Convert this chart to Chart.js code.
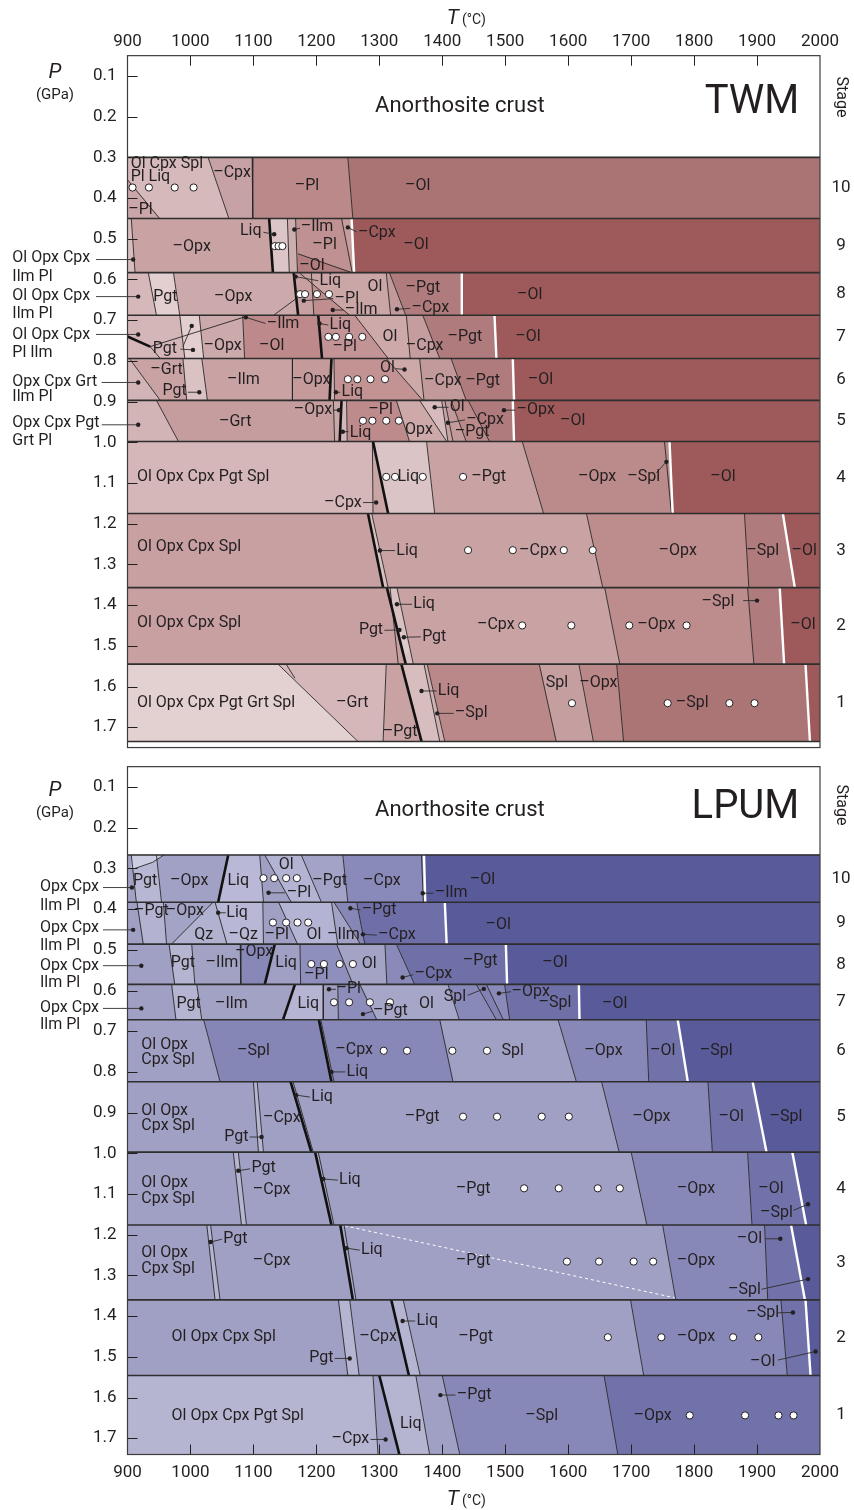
<!DOCTYPE html>
<html lang="en">
<head>
<meta charset="UTF-8">
<title>TWM and LPUM crystallisation stages</title>
<script src="https://cdn.jsdelivr.net/npm/chart.js"></script>
<style>
  body { margin: 0; background: #fff; }
  .panel { position: absolute; left: 0; }
  #twmWrap { top: 0; }
  #lpumWrap { top: 760px; }
</style>
</head>
<body>
<div class="panel" id="twmWrap"><canvas id="twm" width="854" height="760"></canvas></div>
<div class="panel" id="lpumWrap"><canvas id="lpum" width="854" height="750"></canvas></div>
<script>
// axes
const tempTicks = [900, 1000, 1100, 1200, 1300, 1400, 1500, 1600, 1700, 1800, 1900, 2000];
const presTicks = [0.1, 0.2, 0.3, 0.4, 0.5, 0.6, 0.7, 0.8, 0.9, 1.0, 1.1, 1.2, 1.3, 1.4, 1.5, 1.6, 1.7];
const stageNums = [10, 9, 8, 7, 6, 5, 4, 3, 2, 1];

// ---------- TWM ----------
// pressure of the stage band edges (GPa), stage 10 at top
const twmEdges = [0.30, 0.45, 0.583, 0.688, 0.794, 0.897, 0.998, 1.175, 1.357, 1.545, 1.735];
// phase boundaries in each band: [T at top, T at bottom, kind]  t thin, k thick, w white
const twmBounds = [
  [[1028, 1061, 't'], [1098, 1099, 't'], [1250, 1258, 't']],
  [[906, 912, 't'], [1125, 1131, 'k'], [1154, 1157, 't'], [1167, 1170, 't'], [1240, 1257, 't'], [1256, 1260, 'w']],
  [[933, 946, 't'], [973, 983, 't'], [1164, 1171, 'k'], [1192, 1196, 't'], [1311, 1318, 't'], [1316, 1342, 't'], [1431, 1431, 'w']],
  [[983, 991, 't'], [1014, 1021, 't'], [1083, 1086, 't'], [1203, 1209, 'k'], [1261, 1314, 't'], [1343, 1349, 't'], [1369, 1396, 't'], [1483, 1486, 'w']],
  [[903, 952, 't'], [988, 994, 't'], [1018, 1027, 't'], [1162, 1162, 't'], [1224, 1221, 'k'], [1228, 1229, 't'], [1311, 1369, 't'], [1364, 1371, 't'], [1414, 1438, 't'], [1512, 1514, 'w']],
  [[946, 981, 't'], [1227, 1229, 't'], [1240, 1237, 'k'], [1248, 1249, 't'], [1327, 1348, 't'], [1364, 1407, 't'], [1399, 1409, 't'], [1404, 1417, 't'], [1414, 1438, 't'], [1441, 1475, 't'], [1512, 1514, 'w']],
  [[1289, 1290, 't'], [1290, 1314, 'k'], [1375, 1388, 't'], [1527, 1561, 't'], [1753, 1764, 't'], [1761, 1766, 'w']],
  [[1282, 1306, 'k'], [1288, 1314, 't'], [1629, 1655, 't'], [1880, 1887, 't'], [1941, 1960, 'w']],
  [[1312, 1342, 'k'], [1328, 1354, 't'], [1658, 1682, 't'], [1885, 1895, 't'], [1936, 1943, 'w']],
  [[1139, 1266, 't'], [1311, 1306, 't'], [1335, 1367, 'k'], [1371, 1396, 't'], [1376, 1404, 't'], [1554, 1581, 't'], [1617, 1640, 't'], [1677, 1688, 't'], [1977, 1984, 'w']]
];
const twmFills = [
  ['#d6b9bb', '#c7a2a4', '#bb898a', '#aa7474'],
  ['#d8bdbf', '#c9a3a4', '#dcc5c6', '#cdaeaf', '#c09192', '#c69c9d', '#9e5a5b'],
  ['#d6b8ba', '#e3cfd0', '#cca9aa', '#c9a0a1', '#cba6a7', '#c39a9b', '#b07b7c', '#9e5a5b'],
  ['#d5b6b8', '#e3cfd0', '#cca9aa', '#bd898a', '#c39495', '#cda9aa', '#c59d9e', '#b07b7c', '#9e5a5b'],
  ['#d3b4b6', '#c9a2a3', '#dac1c2', '#c9a3a4', '#c49a9b', '#d0b0b1', '#c39394', '#cda9aa', '#c29a9b', '#b07b7c', '#9e5a5b'],
  ['#d3b4b6', '#c59d9e', '#caa7a8', '#d4b7b8', '#be8b8c', '#cda9aa', '#d6babc', '#c9a3a4', '#c39a9b', '#ba8a8b', '#b07b7c', '#9e5a5b'],
  ['#d5b7b9', '#c9a5a6', '#dbc4c5', '#c9a3a4', '#bb8a8b', '#bb8a8b', '#9e5a5b'],
  ['#c8a0a1', '#d9c0c1', '#c9a3a4', '#bd8c8d', '#b07b7c', '#9e5a5b'],
  ['#c8a0a1', '#d9c0c1', '#c9a3a4', '#bd8c8d', '#b07b7c', '#9e5a5b'],
  ['#e3d1d2', '#d5b7b9', '#c9a3a4', '#d8bdbf', '#d0b0b1', '#bb8889', '#c59fa0', '#bb8889', '#ab7576', '#9e5a5b']
];
const twmPatches = [
  ['#cba6a8', [[900, 0.355], [951, 0.45], [900, 0.45]]],
  ['#b27d7e', [[1171, 0.537], [1256, 0.583], [1170, 0.583]]],
  ['#c08e8f', [[1193, 0.61], [1253, 0.688], [1196, 0.688]]],
  ['#e0cbcc', [[1330, 1.45], [1349, 1.507], [1340, 1.525]]]
];
const twmLines = [
  [900, 0.355, 951, 0.45, 't'], [1171, 0.537, 1256, 0.583, 't'], [1174, 0.585, 1253, 0.688, 't'],
  [1132, 0.688, 1166, 0.649, 't'], [900, 0.740, 936, 0.765, 'k'], [936, 0.765, 1088, 0.691, 't'],
  [936, 0.765, 952, 0.794, 't'], [1317, 1.357, 1330, 1.545, 't'], [1152, 1.545, 1166, 1.58, 't']
];
const twmOpen = [
  [908, 0.374], [934, 0.374], [975, 0.374], [1005, 0.374],
  [1134, 0.518], [1140, 0.518], [1146, 0.518],
  [1174, 0.636], [1182, 0.636], [1201, 0.636], [1220, 0.636],
  [1219, 0.741], [1231, 0.741], [1252, 0.741], [1273, 0.741],
  [1250, 0.845], [1265, 0.845], [1286, 0.845], [1309, 0.845],
  [1274, 0.947], [1289, 0.947], [1311, 0.947], [1331, 0.947],
  [1311, 1.085], [1325, 1.085], [1369, 1.085], [1433, 1.085],
  [1441, 1.265], [1512, 1.265], [1593, 1.265], [1639, 1.265],
  [1527, 1.45], [1605, 1.45], [1697, 1.45], [1788, 1.45],
  [1606, 1.641], [1758, 1.641], [1856, 1.641], [1896, 1.641]
];
const twmDots = [
  [909, 0.551], [1133, 0.489], [1165, 0.477], [1250, 0.472],
  [917, 0.642], [1167, 0.593], [1180, 0.652], [1226, 0.675], [1328, 0.673],
  [917, 0.735], [1088, 0.693], [1004, 0.773], [1002, 0.714], [1205, 0.708],
  [917, 0.853], [1014, 0.877], [1231, 0.877], [1340, 0.821],
  [917, 0.957], [1236, 0.921], [1242, 0.974], [1388, 0.914], [1409, 0.952], [1498, 0.921],
  [1295, 1.148], [1756, 1.048], [1301, 1.266],
  [1328, 1.398], [1332, 1.461], [1339, 1.479], [1900, 1.389],
  [1367, 1.611], [1392, 1.666]
];
const twmLeaders = [
  [850, 0.551, 909, 0.551], [1116, 0.484, 1133, 0.489], [1165, 0.477, 1174, 0.474], [1250, 0.472, 1264, 0.483],
  [850, 0.642, 917, 0.642], [1167, 0.593, 1203, 0.603], [1180, 0.652, 1227, 0.647], [1226, 0.675, 1243, 0.675], [1328, 0.673, 1349, 0.671],
  [850, 0.735, 917, 0.735], [1088, 0.693, 1119, 0.708], [984, 0.771, 1004, 0.773], [1002, 0.714, 988, 0.765], [1205, 0.708, 1219, 0.712],
  [859, 0.853, 917, 0.853], [996, 0.877, 1014, 0.877], [1231, 0.877, 1238, 0.877], [1326, 0.819, 1340, 0.821],
  [859, 0.957, 917, 0.957], [1226, 0.921, 1236, 0.921], [1242, 0.974, 1251, 0.974], [1388, 0.914, 1410, 0.914], [1409, 0.952, 1436, 0.945], [1498, 0.921, 1516, 0.921],
  [1274, 1.148, 1295, 1.148], [1756, 1.048, 1740, 1.075], [1301, 1.266, 1325, 1.266],
  [1328, 1.398, 1352, 1.398], [1308, 1.462, 1332, 1.461], [1339, 1.479, 1366, 1.478], [1878, 1.389, 1900, 1.389],
  [1367, 1.611, 1391, 1.611], [1392, 1.666, 1418, 1.666]
];
const twmLabels = [
  ['Ol Cpx Spl', 905, 0.316, 'left'], ['Pl Liq', 905, 0.349, 'left'], ['–Cpx', 1066, 0.338, 'center'], ['–Pl', 1185, 0.37, 'center'], ['–Ol', 1361, 0.37, 'center'], ['–Pl', 901, 0.429, 'left'],
  ['–Opx', 1002, 0.519, 'center'], ['Liq', 1113, 0.481, 'right'], ['–Ilm', 1175, 0.472, 'left'], ['–Pl', 1213, 0.515, 'center'], ['–Ol', 1193, 0.567, 'center'], ['–Cpx', 1266, 0.485, 'left'], ['–Ol', 1358, 0.515, 'center'],
  ['Pgt', 960, 0.642, 'center'], ['–Opx', 1068, 0.642, 'center'], ['Liq', 1205, 0.603, 'left'], ['–Pl', 1229, 0.647, 'left'], ['–Ilm', 1245, 0.675, 'left'], ['Ol', 1293, 0.619, 'center'], ['–Pgt', 1369, 0.622, 'center'], ['–Cpx', 1351, 0.671, 'left'], ['–Ol', 1539, 0.638, 'center'],
  ['Pgt', 940, 0.771, 'left'], ['–Opx', 1051, 0.763, 'center'], ['–Ol', 1129, 0.763, 'center'], ['–Ilm', 1121, 0.710, 'left'], ['Liq', 1221, 0.712, 'left'], ['–Pl', 1245, 0.767, 'center'], ['Ol', 1317, 0.742, 'center'], ['–Cpx', 1372, 0.763, 'center'], ['–Pgt', 1436, 0.742, 'center'], ['–Ol', 1536, 0.742, 'center'],
  ['–Grt', 962, 0.822, 'center'], ['Pgt', 975, 0.875, 'center'], ['–Ilm', 1084, 0.847, 'center'], ['–Opx', 1192, 0.847, 'center'], ['Liq', 1240, 0.877, 'left'], ['Ol', 1313, 0.817, 'center'], ['–Cpx', 1401, 0.849, 'center'], ['–Pgt', 1464, 0.849, 'center'], ['–Ol', 1556, 0.847, 'center'],
  ['–Grt', 1071, 0.949, 'center'], ['–Opx', 1225, 0.921, 'right'], ['Liq', 1253, 0.976, 'left'], ['–Pl', 1302, 0.921, 'center'], ['Opx', 1363, 0.970, 'center'], ['Ol', 1412, 0.914, 'left'], ['–Cpx', 1438, 0.945, 'left'], ['–Pgt', 1420, 0.974, 'left'], ['–Opx', 1518, 0.921, 'left'], ['–Ol', 1607, 0.948, 'center'],
  ['Ol Opx Cpx Pgt Spl', 915, 1.085, 'left'], ['–Cpx', 1272, 1.148, 'right'], ['Liq', 1346, 1.085, 'center'], ['–Pgt', 1446, 1.085, 'left'], ['–Opx', 1646, 1.085, 'center'], ['–Spl', 1720, 1.085, 'center'], ['–Ol', 1846, 1.085, 'center'],
  ['Ol Opx Cpx Spl', 915, 1.258, 'left'], ['Liq', 1327, 1.266, 'left'], ['–Cpx', 1552, 1.267, 'center'], ['–Opx', 1774, 1.267, 'center'], ['–Spl', 1909, 1.267, 'center'], ['–Ol', 1975, 1.267, 'center'],
  ['Ol Opx Cpx Spl', 915, 1.445, 'left'], ['Liq', 1354, 1.398, 'left'], ['Pgt', 1306, 1.462, 'right'], ['Pgt', 1368, 1.478, 'left'], ['–Cpx', 1485, 1.45, 'center'], ['–Opx', 1740, 1.45, 'center'], ['–Spl', 1838, 1.392, 'center'], ['–Ol', 1973, 1.45, 'center'],
  ['Ol Opx Cpx Pgt Grt Spl', 915, 1.641, 'left'], ['–Grt', 1257, 1.641, 'center'], ['–Pgt', 1333, 1.711, 'center'], ['Liq', 1393, 1.611, 'left'], ['–Spl', 1420, 1.666, 'left'], ['Spl', 1582, 1.592, 'center'], ['–Opx', 1648, 1.592, 'center'], ['–Spl', 1797, 1.641, 'center']
];
const twmSide = [
  ['Ol Opx Cpx', 717, 0.547], ['Ilm Pl', 717, 0.593],
  ['Ol Opx Cpx', 717, 0.641], ['Ilm Pl', 717, 0.685],
  ['Ol Opx Cpx', 717, 0.736], ['Pl Ilm', 717, 0.781],
  ['Opx Cpx Grt', 717, 0.851], ['Ilm Pl', 717, 0.889],
  ['Opx Cpx Pgt', 717, 0.953], ['Grt Pl', 717, 0.997]
];

// ---------- LPUM ----------
const lpumEdges = [0.267, 0.383, 0.486, 0.585, 0.672, 0.824, 0.997, 1.176, 1.36, 1.546, 1.741];
const lpumBounds = [
  [[906, 914, 't'], [946, 954, 't'], [1060, 1044, 'k'], [1110, 1116, 't'], [1118, 1160, 't'], [1176, 1208, 't'], [1242, 1250, 't'], [1367, 1370, 't'], [1371, 1373, 'w']],
  [[915, 925, 't'], [957, 962, 't'], [1039, 1058, 't'], [1115, 1116, 't'], [1140, 1170, 't'], [1224, 1234, 't'], [1228, 1270, 't'], [1264, 1277, 't'], [1404, 1407, 'w']],
  [[966, 975, 't'], [1002, 1007, 't'], [1079, 1080, 't'], [1134, 1118, 'k'], [1174, 1175, 't'], [1232, 1258, 't'], [1309, 1312, 't'], [1327, 1356, 't'], [1501, 1503, 'w']],
  [[970, 977, 't'], [1010, 1018, 't'], [1166, 1147, 'k'], [1211, 1211, 't'], [1234, 1235, 't'], [1269, 1296, 't'], [1409, 1427, 't'], [1454, 1486, 't'], [1470, 1497, 't'], [1499, 1507, 't'], [1617, 1618, 'w']],
  [[1021, 1047, 't'], [1204, 1224, 'k'], [1207, 1228, 't'], [1396, 1417, 't'], [1584, 1613, 't'], [1724, 1728, 't'], [1774, 1790, 'w']],
  [[1100, 1108, 't'], [1106, 1116, 't'], [1159, 1192, 'k'], [1163, 1195, 't'], [1653, 1681, 't'], [1822, 1829, 't'], [1893, 1915, 'w']],
  [[1068, 1081, 't'], [1076, 1089, 't'], [1198, 1224, 'k'], [1203, 1228, 't'], [1700, 1725, 't'], [1885, 1892, 't'], [1956, 1978, 'w']],
  [[1026, 1039, 't'], [1032, 1047, 't'], [1238, 1258, 'k'], [1244, 1263, 't'], [1750, 1771, 't'], [1912, 1917, 't'], [1954, 1976, 'w']],
  [[1235, 1250, 't'], [1253, 1268, 't'], [1319, 1347, 'k'], [1338, 1365, 't'], [1699, 1720, 't'], [1938, 1948, 't'], [1977, 1985, 'w']],
  [[1290, 1298, 't'], [1300, 1332, 'k'], [1358, 1380, 't'], [1400, 1428, 't'], [1657, 1679, 't']]
];
const lpumFills = [
  ['#a2a2c5', '#b7b7d4', '#a1a1c5', '#b9b9d7', '#a0a0c5', '#b3b3d3', '#a3a3c7', '#8a8aba', '#8a8aba', '#585a9a'],
  ['#a0a0c4', '#b3b3d1', '#a3a3c6', '#b8b8d6', '#a0a0c5', '#b3b3d3', '#a2a2c6', '#8686b7', '#6e6fa8', '#585a9a'],
  ['#a0a0c4', '#b5b5d2', '#a2a2c5', '#8888b8', '#a0a0c5', '#8f8fbd', '#a3a3c6', '#8a8aba', '#6f70a8', '#585a9a'],
  ['#a0a0c4', '#b5b5d2', '#a2a2c5', '#b5b5d3', '#a0a0c4', '#8d8dbc', '#a6a6c8', '#8989b9', '#8181b3', '#8a8aba', '#7070a9', '#585a9a'],
  ['#a0a0c4', '#8585b6', '#9a9ac0', '#8888b8', '#a0a0c4', '#8888b8', '#7272aa', '#585a9a'],
  ['#a0a0c4', '#b5b5d2', '#a0a0c4', '#a8a8ca', '#a0a0c4', '#8888b8', '#7272aa', '#585a9a'],
  ['#a0a0c4', '#b5b5d2', '#a0a0c4', '#a8a8ca', '#a0a0c4', '#8888b8', '#7272aa', '#585a9a'],
  ['#a0a0c4', '#b5b5d2', '#a0a0c4', '#a8a8ca', '#a0a0c4', '#8888b8', '#7272aa', '#585a9a'],
  ['#a0a0c4', '#b5b5d2', '#a0a0c4', '#b5b5d2', '#a0a0c4', '#8888b8', '#7272aa', '#585a9a'],
  ['#b5b5d2', '#a0a0c4', '#b5b5d2', '#a0a0c4', '#8888b8', '#7272aa']
];
const lpumPatches = [
  ['#cdcde2', [[906, 0.267], [958, 0.267], [940, 0.285], [912, 0.30], [906, 0.30]]],
  ['#b1b1d0', [[1036, 0.383], [1039, 0.383], [1058, 0.486], [970, 0.486]]]
];
const lpumLines = [
  [958, 0.267, 940, 0.285, 't'], [940, 0.285, 912, 0.30, 't'], [1036, 0.383, 970, 0.486, 't'],
  [1245, 1.178, 1769, 1.355, 'd']
];
const lpumOpen = [
  [1116, 0.324], [1133, 0.324], [1152, 0.324], [1169, 0.324],
  [1131, 0.433], [1152, 0.433], [1170, 0.433], [1187, 0.433],
  [1192, 0.535], [1212, 0.535], [1237, 0.535], [1258, 0.535],
  [1228, 0.629], [1252, 0.629], [1285, 0.629], [1317, 0.629],
  [1307, 0.748], [1344, 0.748], [1416, 0.748], [1471, 0.748],
  [1433, 0.910], [1487, 0.910], [1558, 0.910], [1601, 0.910],
  [1530, 1.086], [1585, 1.086], [1647, 1.086], [1682, 1.086],
  [1598, 1.266], [1649, 1.266], [1704, 1.266], [1735, 1.266],
  [1663, 1.452], [1748, 1.452], [1862, 1.452], [1902, 1.452],
  [1793, 1.644], [1881, 1.644], [1934, 1.644], [1958, 1.644]
];
const lpumDots = [
  [907, 0.347], [1124, 0.360], [1369, 0.361],
  [909, 0.451], [1044, 0.409], [1254, 0.398], [1274, 0.462],
  [922, 0.539], [1337, 0.568],
  [922, 0.644], [1220, 0.597], [1274, 0.658], [1466, 0.596], [1490, 0.607],
  [1224, 0.800], [1113, 0.960], [1168, 0.857],
  [1076, 1.043], [1211, 1.063], [1981, 1.125],
  [1032, 1.218], [1248, 1.233], [1937, 1.210], [1981, 1.309],
  [1253, 1.504], [1337, 1.412], [1957, 1.391], [1993, 1.487],
  [1310, 1.703], [1397, 1.594]
];
const lpumLeaders = [
  [861, 0.347, 907, 0.347], [1124, 0.360, 1150, 0.360], [1369, 0.361, 1386, 0.361],
  [861, 0.451, 909, 0.451], [1044, 0.409, 1056, 0.409], [1254, 0.398, 1270, 0.402], [1274, 0.462, 1296, 0.464],
  [861, 0.539, 922, 0.539], [1337, 0.568, 1354, 0.561],
  [861, 0.644, 922, 0.644], [1220, 0.597, 1231, 0.597], [1274, 0.658, 1289, 0.651], [1440, 0.612, 1466, 0.596], [1490, 0.607, 1509, 0.603],
  [1224, 0.800, 1246, 0.800], [1094, 0.960, 1113, 0.960], [1168, 0.857, 1190, 0.862],
  [1076, 1.043, 1095, 1.038], [1211, 1.063, 1234, 1.066], [1958, 1.140, 1981, 1.125],
  [1032, 1.218, 1050, 1.211], [1248, 1.233, 1269, 1.238], [1913, 1.210, 1937, 1.210], [1907, 1.334, 1981, 1.309],
  [1229, 1.504, 1253, 1.504], [1337, 1.412, 1357, 1.412], [1933, 1.392, 1957, 1.391], [1933, 1.508, 1993, 1.487],
  [1286, 1.703, 1310, 1.703], [1397, 1.594, 1421, 1.594]
];
const lpumLabels = [
  ['Pgt', 928, 0.331, 'center'], ['–Opx', 998, 0.331, 'center'], ['Liq', 1076, 0.331, 'center'], ['Ol', 1152, 0.292, 'center'], ['–Pl', 1153, 0.360, 'left'], ['–Pgt', 1221, 0.331, 'center'], ['–Cpx', 1304, 0.330, 'center'], ['–Ilm', 1388, 0.361, 'left'], ['–Ol', 1464, 0.328, 'center'],
  ['–Pgt', 938, 0.405, 'center'], ['–Opx', 991, 0.405, 'center'], ['Liq', 1057, 0.409, 'left'], ['Qz', 1021, 0.464, 'center'], ['–Qz', 1084, 0.464, 'center'], ['–Pl', 1137, 0.464, 'center'], ['Ol', 1196, 0.464, 'center'], ['–Ilm', 1243, 0.464, 'center'], ['–Pgt', 1272, 0.402, 'left'], ['–Cpx', 1298, 0.464, 'left'], ['–Ol', 1489, 0.439, 'center'],
  ['Pgt', 988, 0.532, 'center'], ['–Ilm', 1050, 0.532, 'center'], ['–Opx', 1101, 0.505, 'center'], ['Liq', 1152, 0.532, 'center'], ['–Pl', 1200, 0.562, 'center'], ['Ol', 1284, 0.535, 'center'], ['–Cpx', 1356, 0.560, 'left'], ['–Pgt', 1460, 0.528, 'center'], ['–Ol', 1579, 0.532, 'center'],
  ['Pgt', 997, 0.632, 'center'], ['–Ilm', 1065, 0.632, 'center'], ['Liq', 1187, 0.632, 'center'], ['–Pl', 1232, 0.597, 'left'], ['–Pgt', 1290, 0.650, 'left'], ['Ol', 1375, 0.634, 'center'], ['Spl', 1438, 0.615, 'right'], ['–Opx', 1510, 0.603, 'left'], ['–Spl', 1579, 0.631, 'center'], ['–Ol', 1674, 0.632, 'center'],
  ['Ol Opx', 922, 0.734, 'left'], ['Cpx Spl', 922, 0.771, 'left'], ['–Spl', 1100, 0.748, 'center'], ['–Cpx', 1260, 0.746, 'center'], ['Liq', 1248, 0.800, 'left'], ['Spl', 1512, 0.748, 'center'], ['–Opx', 1656, 0.748, 'center'], ['–Ol', 1750, 0.748, 'center'], ['–Spl', 1835, 0.748, 'center'],
  ['Ol Opx', 922, 0.895, 'left'], ['Cpx Spl', 922, 0.933, 'left'], ['Pgt', 1092, 0.960, 'right'], ['–Cpx', 1145, 0.913, 'center'], ['Liq', 1192, 0.862, 'left'], ['–Pgt', 1368, 0.910, 'center'], ['–Opx', 1732, 0.911, 'center'], ['–Ol', 1859, 0.911, 'center'], ['–Spl', 1946, 0.911, 'center'],
  ['Ol Opx', 922, 1.074, 'left'], ['Cpx Spl', 922, 1.113, 'left'], ['Pgt', 1097, 1.037, 'left'], ['–Cpx', 1129, 1.090, 'center'], ['Liq', 1236, 1.066, 'left'], ['–Pgt', 1449, 1.087, 'center'], ['–Opx', 1803, 1.087, 'center'], ['–Ol', 1922, 1.087, 'center'], ['–Spl', 1931, 1.147, 'center'],
  ['Ol Opx', 922, 1.246, 'left'], ['Cpx Spl', 922, 1.285, 'left'], ['Pgt', 1052, 1.210, 'left'], ['–Cpx', 1129, 1.264, 'center'], ['Liq', 1271, 1.238, 'left'], ['–Pgt', 1449, 1.264, 'center'], ['–Opx', 1803, 1.264, 'center'], ['–Ol', 1888, 1.211, 'center'], ['–Spl', 1880, 1.336, 'center'],
  ['Ol Opx Cpx Spl', 970, 1.452, 'left'], ['Pgt', 1227, 1.504, 'right'], ['–Cpx', 1298, 1.452, 'center'], ['Liq', 1359, 1.412, 'left'], ['–Pgt', 1453, 1.452, 'center'], ['–Opx', 1803, 1.452, 'center'], ['–Spl', 1909, 1.393, 'center'], ['–Ol', 1909, 1.512, 'center'],
  ['Ol Opx Cpx Pgt Spl', 970, 1.645, 'left'], ['–Cpx', 1284, 1.703, 'right'], ['Liq', 1350, 1.665, 'center'], ['–Pgt', 1423, 1.594, 'left'], ['–Spl', 1558, 1.645, 'center'], ['–Opx', 1734, 1.645, 'center']
];
const lpumSide = [
  ['Opx Cpx', 761, 0.346], ['Ilm Pl', 761, 0.393],
  ['Opx Cpx', 761, 0.447], ['Ilm Pl', 761, 0.491],
  ['Opx Cpx', 761, 0.539], ['Ilm Pl', 761, 0.582],
  ['Opx Cpx', 761, 0.644], ['Ilm Pl', 761, 0.685]
];

const FONT = 'Roboto, "Open Sans", sans-serif';
const INK = '#231f20';

// line looks; a higher order is drawn earlier
const LINE_STYLE = {
  t: { color: '#262626', width: 0.9, order: 40 },
  k: { color: '#111111', width: 2.6, order: 38 },
  w: { color: '#ffffff', width: 2.4, order: 36 },
  d: { color: '#ffffff', width: 1, order: 36, dash: [3, 3] },
  e: { color: '#2e2e2e', width: 1.6, order: 30 },
  l: { color: '#2e2e2e', width: 0.9, order: 20 }
};

const pts = arr => arr.map(p => ({ x: p[0], y: p[1] }));

function polygon(corners, color, order) {
  return {
    data: pts(corners), showLine: true, fill: 'shape',
    backgroundColor: color, borderColor: color, borderWidth: 0.6,
    pointRadius: 0, order: order
  };
}

function segment(x1, y1, x2, y2, kind) {
  const s = LINE_STYLE[kind];
  const ds = {
    data: pts([[x1, y1], [x2, y2]]), showLine: true, fill: false,
    borderColor: s.color, borderWidth: s.width, borderDash: s.dash || [],
    pointRadius: 0, order: s.order
  };
  if (kind === 'l') ds.clip = false;
  return ds;
}

function buildDatasets(p) {
  const ds = [];
  p.bounds.forEach((bs, i) => {
    const top = p.edges[i], bot = p.edges[i + 1];
    const b = [[900, 900]].concat(bs, [[2000, 2000]]);
    for (let j = 0; j < b.length - 1; j++) {
      ds.push(polygon([[b[j][0], top], [b[j + 1][0], top], [b[j + 1][1], bot], [b[j][1], bot]], p.fills[i][j], 50));
    }
    bs.forEach(l => ds.push(segment(l[0], top, l[1], bot, l[2])));
  });
  p.patches.forEach(pp => ds.push(polygon(pp[1], pp[0], 45)));
  p.lines.forEach(l => ds.push(segment(l[0], l[1], l[2], l[3], l[4])));
  p.edges.forEach(e => ds.push(segment(900, e, 2000, e, 'e')));
  p.leaders.forEach(l => ds.push(segment(l[0], l[1], l[2], l[3], 'l')));
  ds.push({ data: pts(p.dots), showLine: false, pointRadius: 2.2, backgroundColor: INK, borderWidth: 0, order: 5, clip: false });
  ds.push({ data: pts(p.open), showLine: false, pointRadius: 3.6, backgroundColor: '#ffffff', borderColor: INK, borderWidth: 1, order: 4 });
  return ds;
}

function decorPlugin(p) {
  return {
    id: 'decor',
    afterDatasetsDraw(chart) {
      const { ctx, chartArea: a, scales: { x, y } } = chart;
      const px = v => x.getPixelForValue(v), py = v => y.getPixelForValue(v);
      ctx.save();
      ctx.fillStyle = INK;
      ctx.textBaseline = 'middle';

      ctx.font = '16px ' + FONT;
      p.labels.forEach(([txt, T, P, al]) => { ctx.textAlign = al; ctx.fillText(txt, px(T), py(P)); });
      ctx.textAlign = 'left';
      p.side.forEach(([txt, T, P]) => ctx.fillText(txt, px(T), py(P)));

      ctx.font = '22px ' + FONT; ctx.textAlign = 'center';
      ctx.fillText('Anorthosite crust', px(p.crust[0]), py(p.crust[1]));
      ctx.font = '40px ' + FONT; ctx.textAlign = 'right';
      ctx.fillText(p.name, px(p.nameAt[0]), py(p.nameAt[1]));

      // pressure tick labels, placed through the y scale
      ctx.font = '17px ' + FONT; ctx.textAlign = 'right';
      presTicks.forEach(v => ctx.fillText(v.toFixed(1), a.left - 11, py(v)));

      // ticks pointing inwards
      ctx.strokeStyle = INK; ctx.lineWidth = 1;
      ctx.beginPath();
      presTicks.forEach(v => { const yy = Math.round(py(v)) + 0.5; ctx.moveTo(a.left, yy); ctx.lineTo(a.left + 10, yy); });
      tempTicks.slice(1, -1).forEach(v => {
        const xx = Math.round(px(v)) + 0.5;
        if (p.xPos === 'top') { ctx.moveTo(xx, a.top); ctx.lineTo(xx, a.top + 10); }
        else { ctx.moveTo(xx, a.bottom); ctx.lineTo(xx, a.bottom - 10); }
      });
      ctx.stroke();
      ctx.strokeStyle = '#3c3c3c'; ctx.lineWidth = 1.2;
      ctx.strokeRect(a.left, a.top, a.width, a.height);

      // stage numbers
      ctx.font = '17px ' + FONT; ctx.textAlign = 'center';
      stageNums.forEach((n, i) => ctx.fillText(String(n), a.right + 21, py((p.edges[i] + p.edges[i + 1]) / 2)));
      ctx.save();
      ctx.translate(a.right + 21, p.stageY); ctx.rotate(Math.PI / 2);
      ctx.font = '16px ' + FONT; ctx.fillText('Stage', 0, 0);
      ctx.restore();

      // axis titles
      ctx.textBaseline = 'alphabetic';
      ctx.font = 'italic 21px ' + FONT; ctx.textAlign = 'right';
      ctx.fillText('T', 459, p.tY);
      ctx.font = '14px ' + FONT; ctx.textAlign = 'left';
      ctx.fillText('(°C)', 462, p.tY);
      ctx.font = 'italic 21px ' + FONT; ctx.textAlign = 'center';
      ctx.fillText('P', 55, p.pY);
      ctx.font = '15px ' + FONT;
      ctx.fillText('(GPa)', 55, p.pY + 21);
      ctx.restore();
    }
  };
}

function makeChart(p) {
  return new Chart(document.getElementById(p.id), {
    type: 'line',
    data: { datasets: buildDatasets(p) },
    options: {
      responsive: false, animation: false, devicePixelRatio: 1, events: [],
      layout: { padding: p.padding },
      elements: { line: { tension: 0 } },
      plugins: { legend: { display: false }, tooltip: { enabled: false } },
      scales: {
        x: {
          type: 'linear', position: p.xPos, min: 900, max: 2000,
          afterBuildTicks: s => { s.ticks = tempTicks.map(v => ({ value: v })); },
          afterFit: s => { s.height = p.xHeight; },
          grid: { display: false, drawTicks: false }, border: { display: false },
          ticks: { padding: p.xPad, color: INK, font: { family: FONT, size: 17 }, maxRotation: 0, autoSkip: false, callback: v => String(v) }
        },
        y: {
          type: 'linear', reverse: true, min: 0.05, max: p.yMax,
          afterBuildTicks: s => { s.ticks = presTicks.map(v => ({ value: v })); },
          afterFit: s => { s.width = 127.5; },
          grid: { display: false, drawTicks: false }, border: { display: false },
          ticks: { display: false }
        }
      }
    },
    plugins: [decorPlugin(p)]
  });
}

makeChart({
  id: 'twm', name: 'TWM', edges: twmEdges, bounds: twmBounds, fills: twmFills, patches: twmPatches,
  lines: twmLines, open: twmOpen, dots: twmDots, leaders: twmLeaders, labels: twmLabels, side: twmSide,
  crust: [1428, 0.176], nameAt: [1967, 0.166], yMax: 1.75, xPos: 'top',
  padding: { top: 0, left: 0, right: 34, bottom: 12.45 }, xHeight: 55.65, xPad: 3.5,
  stageY: 97, tY: 24, pY: 78
});
makeChart({
  id: 'lpum', name: 'LPUM', edges: lpumEdges, bounds: lpumBounds, fills: lpumFills, patches: lpumPatches,
  lines: lpumLines, open: lpumOpen, dots: lpumDots, leaders: lpumLeaders, labels: lpumLabels, side: lpumSide,
  crust: [1428, 0.157], nameAt: [1967, 0.152], yMax: 1.74, xPos: 'bottom',
  padding: { top: 6.65, left: 0, right: 34, bottom: 0 }, xHeight: 55.5, xPad: 8.3,
  stageY: 45, tY: 745, pY: 36
});
</script>
</body>
</html>
